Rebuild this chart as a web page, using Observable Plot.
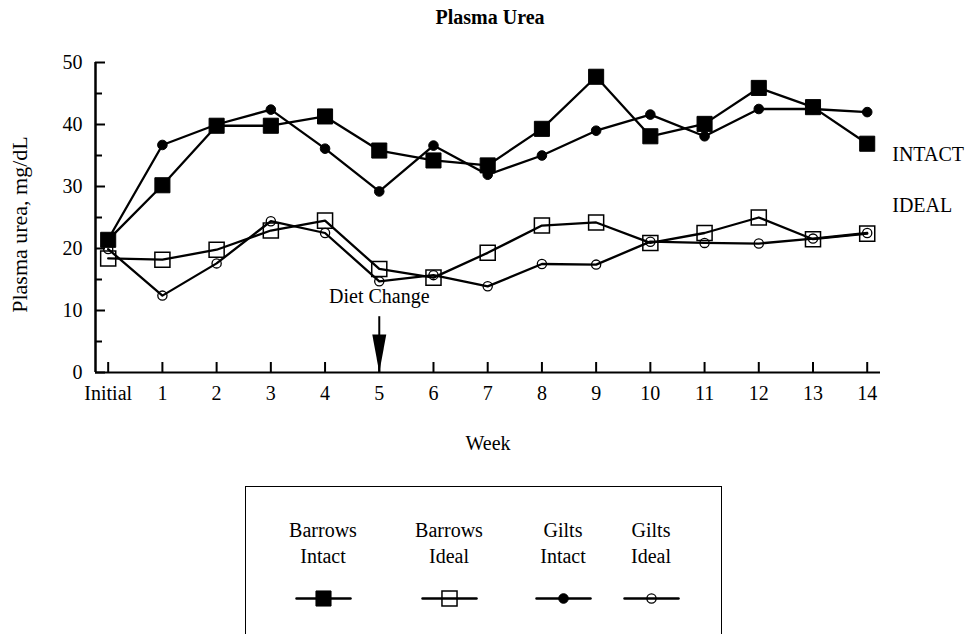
<!DOCTYPE html>
<html>
<head>
<meta charset="utf-8">
<script src="https://cdn.jsdelivr.net/npm/d3@7"></script>
<script src="https://cdn.jsdelivr.net/npm/@observablehq/plot@0.6"></script>
<style>
html, body { margin: 0; padding: 0; background: #fff; }
#wrap { position: relative; width: 971px; height: 634px; overflow: hidden; font-family: "Liberation Serif", "Times New Roman", serif; color: #000; }
#chart { position: absolute; left: 0; top: 0; }
#legend { position: absolute; left: 245px; top: 486px; width: 477px; height: 220px; border: 1.5px solid #000; box-sizing: border-box; }
.lab { position: absolute; top: 30px; width: 120px; margin-left: -60px; text-align: center; font-size: 20px; line-height: 26px; }
.sym { position: absolute; top: 99px; width: 60px; margin-left: -30px; }
</style>
</head>
<body>
<div id="wrap"><div id="chart"></div><div id="legend"></div></div>
<script>
// ---- data ----
const weekLabels = ["Initial","1","2","3","4","5","6","7","8","9","10","11","12","13","14"];
const barrowsIntact = [21.4, 30.2, 39.8, 39.8, 41.3, 35.8, 34.2, 33.4, 39.3, 47.7, 38.1, 40.1, 45.9, 42.8, 36.9];
const barrowsIdeal  = [18.4, 18.2, 19.8, 22.9, 24.5, 16.7, 15.3, 19.3, 23.7, 24.2, 20.9, 22.5, 25.0, 21.5, 22.4];
const giltsIntact   = [21.5, 36.7, 40.0, 42.4, 36.1, 29.2, 36.6, 31.9, 35.0, 39.0, 41.6, 38.1, 42.5, 42.5, 42.0];
const giltsIdeal    = [19.9, 12.4, 17.6, 24.4, 22.5, 14.7, 15.7, 13.9, 17.5, 17.4, 21.1, 20.9, 20.8, 21.6, 22.5];
const seriesNames   = ["Barrows Intact", "Barrows Ideal", "Gilts Intact", "Gilts Ideal"];
const legendLines   = [["Barrows","Intact"], ["Barrows","Ideal"], ["Gilts","Intact"], ["Gilts","Ideal"]];
const yMajorTicks = [0, 10, 20, 30, 40, 50];
const yMinorTicks = [5, 15, 25, 35, 45];
const sideLabels = ["INTACT", "IDEAL"];
const sideLabelY = [35.1, 27.0];
const dietLabel = "Diet Change";
const dietWeek = 5;
const dietLabelY = 12.2;
const arrowTopY = 9.0;

// ---- build ----
const weekIndex = weekLabels.map((_, i) => i);
const seriesValues = [barrowsIntact, barrowsIdeal, giltsIntact, giltsIdeal];
const rows = [];
seriesNames.forEach((name, s) => seriesValues[s].forEach((v, i) => rows.push({series: name, x: i, y: v})));
const bySeries = name => rows.filter(d => d.series === name);

const markStyle = {
  "Barrows Intact": {symbol: "square", r: 8.5, fill: "black", stroke: "black", strokeWidth: 1},
  "Barrows Ideal":  {symbol: "square", r: 8.5, fill: "none", stroke: "black", strokeWidth: 1.5},
  "Gilts Intact":   {symbol: "circle", r: 4.8, fill: "black", stroke: "black", strokeWidth: 1},
  "Gilts Ideal":    {symbol: "circle", r: 4.6, fill: "none", stroke: "black", strokeWidth: 1.3}
};

const arrowHead = {
  draw(context) {
    context.moveTo(0, 0);
    context.lineTo(-7, -38);
    context.lineTo(7, -38);
    context.closePath();
  }
};

const W = 971, H = 470, mL = 95, mR = 91, mT = 62, mB = 98;
const plotW = W - mL - mR, plotH = H - mT - mB;
const xDomain = [-0.234, 14.245];

const chart = Plot.plot({
  width: W, height: H,
  marginLeft: mL, marginRight: mR, marginTop: mT, marginBottom: mB,
  style: {fontFamily: "Liberation Serif, Times New Roman, serif", fontSize: "20px", color: "black", background: "white", overflow: "visible"},
  x: {domain: xDomain},
  y: {domain: [0, 50]},
  marks: [
    Plot.axisY({ticks: yMajorTicks, tickSize: 0, tickPadding: 13, label: null}),
    Plot.axisX({ticks: weekIndex, tickFormat: i => weekLabels[i], tickSize: 0, tickPadding: 13, label: null}),
    Plot.tickY(yMajorTicks, {y: d => d, insetRight: plotW - 10, strokeWidth: 2}),
    Plot.tickY(yMinorTicks, {y: d => d, insetRight: plotW - 7, strokeWidth: 2}),
    Plot.tickX(weekIndex, {x: d => d, insetTop: plotH - 10, strokeWidth: 2}),
    Plot.ruleY([0], {strokeWidth: 2.2}),
    Plot.ruleX([xDomain[0]], {strokeWidth: 2.5}),
    Plot.line(rows, {x: "x", y: "y", z: "series", stroke: "black", strokeWidth: 2.3}),
    ...["Barrows Ideal", "Gilts Ideal", "Barrows Intact", "Gilts Intact"].map(name =>
      Plot.dot(bySeries(name), {x: "x", y: "y", ...markStyle[name]})),
    Plot.text(sideLabels, {x: () => 14, y: (d, i) => sideLabelY[i], text: d => d, textAnchor: "start", dx: 25}),
    Plot.text([dietLabel], {x: () => dietWeek, y: () => dietLabelY, text: d => d}),
    Plot.ruleX([{x: dietWeek, y1: arrowTopY, y2: 0}], {x: "x", y1: "y1", y2: "y2", strokeWidth: 2}),
    Plot.dot([{x: dietWeek, y: 0}], {x: "x", y: "y", symbol: arrowHead, fill: "black", stroke: "none"}),
    Plot.text(["Plasma Urea"], {frameAnchor: "top", text: d => d, dy: -45, dx: 2, lineAnchor: "middle", textAnchor: "middle", fontWeight: "bold"}),
    Plot.text(["Week"], {frameAnchor: "bottom", text: d => d, dy: 71, lineAnchor: "middle", textAnchor: "middle"}),
    Plot.text(["Plasma urea, mg/dL"], {frameAnchor: "left", text: d => d, rotate: -90, dx: -75.5, dy: 7, textAnchor: "middle", lineAnchor: "middle", fontSize: 22})
  ]
});
document.getElementById("chart").appendChild(chart);

// ---- legend ----
const legendCenters = [77, 203, 317, 405];
const legend = document.getElementById("legend");
seriesNames.forEach((name, i) => {
  const lab = document.createElement("div");
  lab.className = "lab";
  lab.style.left = legendCenters[i] + "px";
  lab.innerHTML = legendLines[i].join("<br>");
  legend.appendChild(lab);
  const sym = document.createElement("div");
  sym.className = "sym";
  sym.style.left = legendCenters[i] + "px";
  const swatch = [{x: 0, y: 0}, {x: 1, y: 0}];
  sym.appendChild(Plot.plot({
    width: 60, height: 24, margin: 3, marginLeft: 3, marginRight: 3,
    x: {domain: [0, 1], axis: null}, y: {domain: [-1, 1], axis: null},
    style: {background: "transparent", overflow: "visible"},
    marks: [
      Plot.line(swatch, {x: "x", y: "y", stroke: "black", strokeWidth: 2.5}),
      Plot.dot([{x: 0.5, y: 0}], {x: "x", y: "y", ...markStyle[name]})
    ]
  }));
  legend.appendChild(sym);
});
</script>
</body>
</html>
